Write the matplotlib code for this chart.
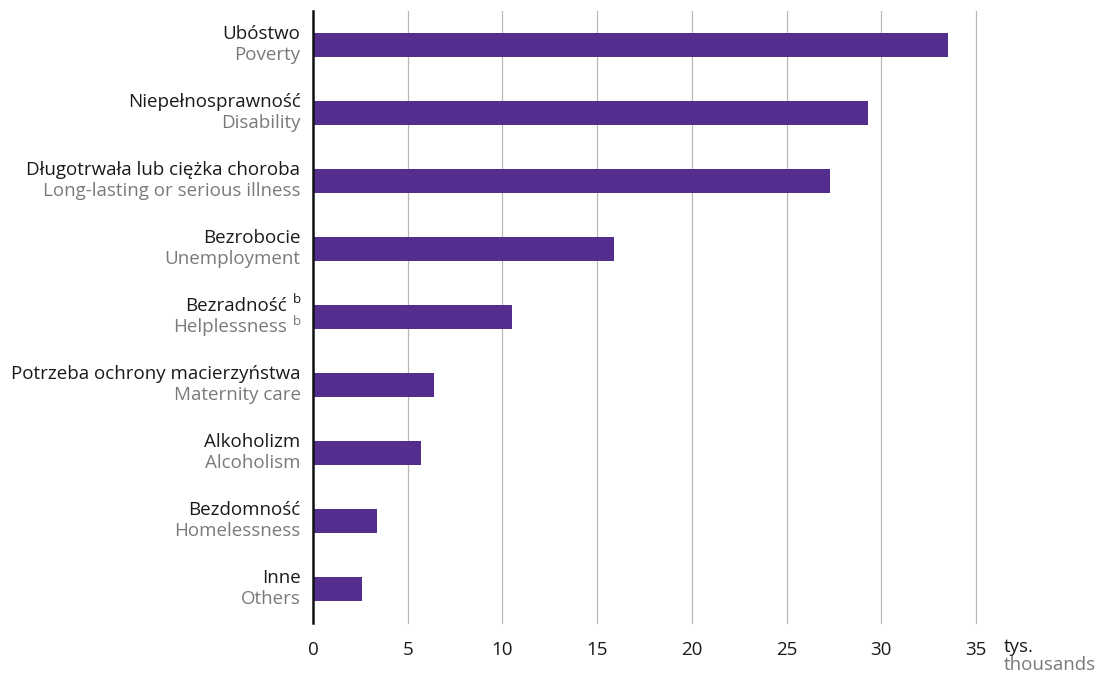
import matplotlib
matplotlib.use("Agg")
import matplotlib.pyplot as plt

# categories (Polish / English) and values in thousands
labels_pl = ["Ubóstwo", "Niepełnosprawność", "Długotrwała lub ciężka choroba",
             "Bezrobocie", "Bezradność", "Potrzeba ochrony macierzyństwa",
             "Alkoholizm", "Bezdomność", "Inne"]
labels_en = ["Poverty", "Disability", "Long-lasting or serious illness",
             "Unemployment", "Helplessness", "Maternity care",
             "Alcoholism", "Homelessness", "Others"]
values = [33.5, 29.3, 27.3, 15.9, 10.5, 6.4, 5.7, 3.4, 2.6]
footnote = ["", "", "", "", "b", "", "", "", ""]
xticks = [0, 5, 10, 15, 20, 25, 30, 35]

bar_color = "#532e8f"
grey = "#7a7a7a"
fs = 13.5

plt.rcParams["font.family"] = ["Open Sans", "DejaVu Sans"]

fig = plt.figure(figsize=(10.99, 6.75), dpi=100)
ax = fig.add_axes([313 / 1099, 1 - 623 / 675, (976 - 313) / 1099, (623 - 11) / 675])

ypos = list(range(len(values)))
ax.barh(ypos, values, height=0.35, color=bar_color, zorder=3)

ax.set_xlim(0, 35)
ax.set_ylim(len(values) - 0.5, -0.5)
ax.set_xticks(xticks)
ax.set_xticklabels([str(t) for t in xticks], fontsize=fs, color="#1a1a1a")
ax.set_yticks([])
ax.tick_params(axis="x", length=0, pad=13)
for t in xticks[1:]:
    ax.axvline(t, color="#b8b8b8", linewidth=0.9, zorder=0, clip_on=False)
for s in ["top", "right", "bottom"]:
    ax.spines[s].set_visible(False)
ax.spines["left"].set_linewidth(1.8)
ax.spines["left"].set_color("#111111")
ax.spines["left"].set_zorder(4)

for i in ypos:
    shift = -19 if footnote[i] else -9
    ax.annotate(labels_pl[i], xy=(0, i), xycoords=("axes fraction", "data"),
                xytext=(shift, 8), textcoords="offset points",
                ha="right", va="center", fontsize=fs, color="#1a1a1a")
    ax.annotate(labels_en[i], xy=(0, i), xycoords=("axes fraction", "data"),
                xytext=(shift, -7.5), textcoords="offset points",
                ha="right", va="center", fontsize=fs, color=grey)
    if footnote[i]:
        ax.annotate(footnote[i], xy=(0, i), xycoords=("axes fraction", "data"),
                    xytext=(-9, 12.5), textcoords="offset points",
                    ha="right", va="center", fontsize=9.5, color="#1a1a1a")
        ax.annotate(footnote[i], xy=(0, i), xycoords=("axes fraction", "data"),
                    xytext=(-9, -3), textcoords="offset points",
                    ha="right", va="center", fontsize=9.5, color=grey)

fig.text(1004 / 1099, 1 - 647 / 675, "tys.", fontsize=fs, color="#1a1a1a",
         ha="left", va="center")
fig.text(1004 / 1099, 1 - 665 / 675, "thousands", fontsize=fs, color=grey,
         ha="left", va="center")

fig.savefig("out.png", dpi=100, facecolor="white")
